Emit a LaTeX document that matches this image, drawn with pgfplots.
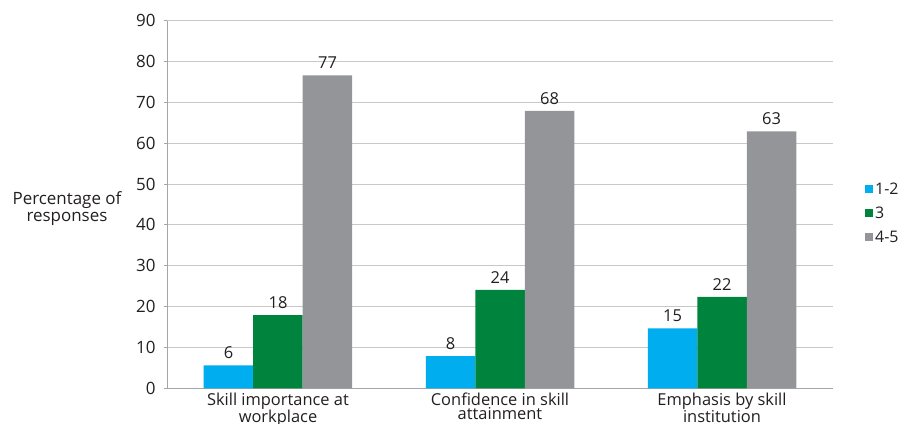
\documentclass[border=0pt]{standalone}
\usepackage{pgfplots}
\pgfplotsset{compat=1.18}
\usepackage{fontspec}
\setmainfont{Open Sans}
\definecolor{cblue}{HTML}{00AEEF}
\definecolor{cgreen}{HTML}{00843D}
\definecolor{cgray}{HTML}{939598}
\definecolor{gridc}{HTML}{C8C8C8}
\definecolor{axc}{HTML}{A6A6A6}
\definecolor{txt}{HTML}{231F20}

\begin{document}
\begin{tikzpicture}
\begin{axis}[
    scale only axis,
    clip=false,
    width=666bp, height=367.6bp,
    ybar=0pt, bar width=49.5bp,
    xmin=0.5, xmax=3.5,
    ymin=0, ymax=90,
    ytick={0,10,...,90},
    xtick={1,2,3},
    xticklabels={{Skill importance at\\workplace},{Confidence in skill\\attainment},{Emphasis by skill\\institution}},
    xticklabel style={align=center, font=\fontsize{16.5}{14}\selectfont, text=txt, yshift=2bp},
    yticklabel style={font=\fontsize{17}{17}\selectfont, text=txt, xshift=-5bp},
    /pgf/number format/assume math mode=true,
    ymajorgrids=true,
    grid style={gridc, line width=0.9pt},
    axis x line*=bottom,
    axis y line*=left,
    axis line style={axc, line width=0.9pt},
    x axis line style={-},
    y axis line style={-},
    xtick style={draw=none},
    ytick style={axc, line width=0.9pt},
    tick align=outside,
    major tick length=3bp,
    nodes near coords={\pgfmathprintnumber[fixed,precision=0]{\pgfplotspointmeta}},
    nodes near coords style={font=\fontsize{16.5}{17}\selectfont, text=txt, yshift=3bp},
    legend style={draw=none, at={(1.048,0.476)}, anchor=west,
        font=\fontsize{16}{17}\selectfont, text=txt,
        row sep=7bp, inner sep=0pt},
    legend cell align=left,
    legend image code/.code={\fill[#1] (0bp,-4bp) rectangle (8bp,4bp);},
]
\addplot[fill=cblue, draw=none] coordinates {(1,5.6) (2,7.9) (3,14.7)};
\addplot[fill=cgreen, draw=none] coordinates {(1,17.9) (2,24.1) (3,22.4)};
\addplot[fill=cgray, draw=none] coordinates {(1,76.6) (2,67.9) (3,62.9)};
\legend{1-2,3,4-5}
\node[align=center, font=\fontsize{17}{17}\selectfont, text=txt] at ([xshift=-100bp]rel axis cs:0,0.49) {Percentage of\\responses};
\coordinate (SW) at (rel axis cs:0,0);
\coordinate (NE) at (rel axis cs:1,1);
\end{axis}
\pgfresetboundingbox
\path ([shift={(-167bp,-35bp)}]SW) rectangle ([shift={(71bp,20.7bp)}]NE);
\end{tikzpicture}
\end{document}
